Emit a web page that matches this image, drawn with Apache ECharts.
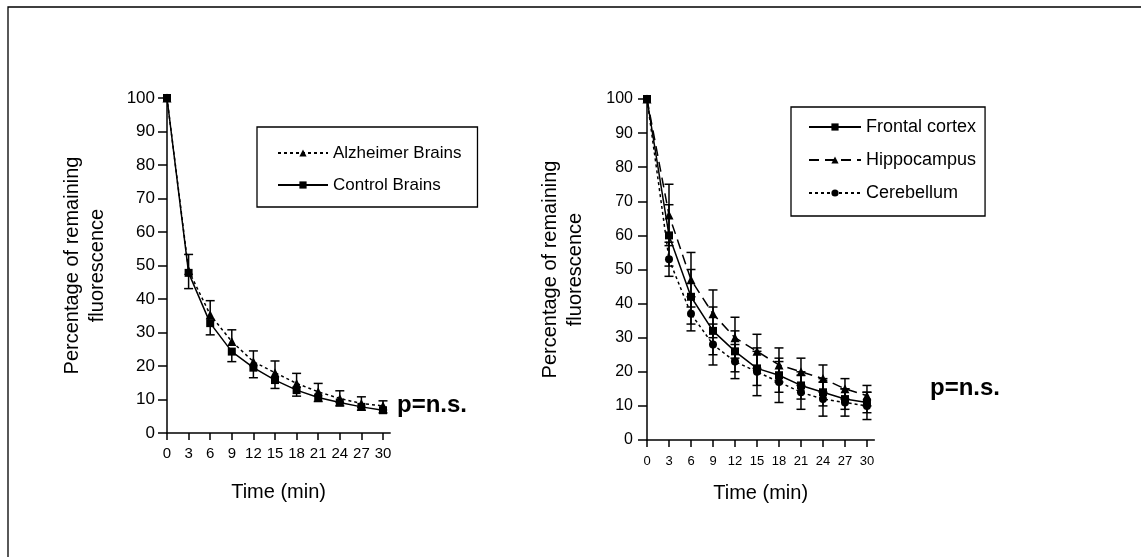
<!DOCTYPE html>
<html>
<head>
<meta charset="utf-8">
<script src="https://cdn.jsdelivr.net/npm/echarts@6/dist/echarts.min.js"></script>
<style>
  html, body { margin: 0; padding: 0; background: #fff; }
  #chart { width: 1141px; height: 557px; }
</style>
</head>
<body>
<div id="chart"></div>
<script>
// ---- data ----
const time = [0, 3, 6, 9, 12, 15, 18, 21, 24, 27, 30];
const timeTicks = [0, 3, 6, 9, 12, 15, 18, 21, 24, 27, 30];

const alzheimer    = [100, 48.5, 35.3, 27.3, 21.3, 18.0, 14.8, 12.3, 10.3, 8.8, 8.1];
const alzheimerErr = [0,   4.8,  4.2,  3.5,  3.2,  3.5,  3.0,  2.5,  2.3,  2.0, 1.5];
const control      = [100, 47.8, 32.8, 24.3, 19.5, 15.8, 12.8, 10.6, 9.1, 7.8, 6.8];
const controlErr   = [0,   4.7,  3.5,  3.0,  3.0,  2.5,  1.8,  1.2,  1.0, 1.0, 0.8];

const frontal        = [100, 60, 42, 32, 26, 21, 19, 16, 14, 12, 11];
const frontalErr     = [0,   9,  8,  7,  6,  5,  5,  4,  4,  3,  3];
const hippocampus    = [100, 66, 47, 37, 30, 26, 22, 20, 18, 15, 13];
const hippocampusErr = [0,   9,  8,  7,  6,  5,  5,  4,  4,  3,  3];
const cerebellum     = [100, 53, 37, 28, 23, 20, 17, 14, 12, 11, 10];
const cerebellumErr  = [0,   5,  5,  6,  5,  7,  6,  5,  5,  4,  4];

const FONT = '"Liberation Sans", Arial, sans-serif';
const BLACK = '#000';

function pairs(vals) { return time.map((t, i) => [t, vals[i]]); }
function errData(vals, errs) { return time.map((t, i) => [t, vals[i], errs[i]]); }

// dir: 1 = up only, -1 = down only, 0 = both
function errorSeries(name, vals, errs, dir, axisIdx) {
  return {
    type: 'custom',
    name: name,
    xAxisIndex: axisIdx, yAxisIndex: axisIdx,
    silent: true,
    z: 3,
    data: errData(vals, errs),
    renderItem: function (params, api) {
      const x = api.value(0), y = api.value(1), e = api.value(2);
      if (!e) return null;
      const c = api.coord([x, y]);
      const hi = api.coord([x, dir >= 0 ? y + e : y]);
      const lo = api.coord([x, dir <= 0 ? y - e : y]);
      const hw = 4.5;
      const style = { stroke: BLACK, lineWidth: 1.5 };
      const children = [{ type: 'line', shape: { x1: c[0], y1: hi[1], x2: c[0], y2: lo[1] }, style: style }];
      if (dir >= 0) children.push({ type: 'line', shape: { x1: c[0] - hw, y1: hi[1], x2: c[0] + hw, y2: hi[1] }, style: style });
      if (dir <= 0) children.push({ type: 'line', shape: { x1: c[0] - hw, y1: lo[1], x2: c[0] + hw, y2: lo[1] }, style: style });
      return { type: 'group', children: children };
    }
  };
}

function lineSeries(name, vals, symbol, size, dash, axisIdx) {
  return {
    type: 'line', name: name,
    xAxisIndex: axisIdx, yAxisIndex: axisIdx,
    data: pairs(vals),
    symbol: symbol, symbolSize: size,
    showSymbol: true,
    lineStyle: { color: BLACK, width: 1.5, type: dash },
    itemStyle: { color: BLACK, borderWidth: 0 },
    z: 4
  };
}

function xAxisCfg(gridIndex, labelSize, nameGap, labelMargin) {
  return {
    type: 'value', gridIndex: gridIndex, min: 0, max: 31,
    name: 'Time (min)', nameLocation: 'middle', nameGap: nameGap,
    nameTextStyle: { fontFamily: FONT, fontSize: 20, color: BLACK },
    axisLine: { show: true, onZero: false, lineStyle: { color: BLACK, width: 1.5 } },
    axisTick: { show: true, length: 7, customValues: timeTicks, lineStyle: { color: BLACK, width: 1.5 } },
    axisLabel: { customValues: timeTicks, fontFamily: FONT, fontSize: labelSize, color: BLACK, margin: labelMargin },
    splitLine: { show: false }
  };
}

function yAxisCfg(gridIndex, labelSize, nameGap, labelMargin) {
  return {
    type: 'value', gridIndex: gridIndex, min: 0, max: 100, interval: 10,
    name: 'Percentage of remaining\nfluorescence', nameLocation: 'middle', nameGap: nameGap, nameRotate: 90,
    nameTextStyle: { fontFamily: FONT, fontSize: 20, color: BLACK, lineHeight: 25, align: 'center' },
    axisLine: { show: true, onZero: false, lineStyle: { color: BLACK, width: 1.5 } },
    axisTick: { show: true, length: 9, lineStyle: { color: BLACK, width: 1.5 } },
    axisLabel: { fontFamily: FONT, fontSize: labelSize, color: BLACK, margin: labelMargin },
    splitLine: { show: false }
  };
}

const chart = echarts.init(document.getElementById('chart'), null, { renderer: 'canvas' });

const option = {
  animation: false,
  backgroundColor: '#fff',
  textStyle: { fontFamily: FONT, color: BLACK },
  grid: [
    { left: 167, top: 98, width: 223.2, height: 335 },
    { left: 647, top: 99, width: 227.3, height: 341 }
  ],
  xAxis: [xAxisCfg(0, 15, 49, 13), xAxisCfg(1, 13, 43, 15)],
  yAxis: [yAxisCfg(0, 17, 57, 12), yAxisCfg(1, 16, 59, 14)],
  legend: [
    {
      left: 257, top: 127, orient: 'vertical',
      borderColor: BLACK, borderWidth: 1.3, borderRadius: 0,
      padding: [17, 16, 13, 20], itemGap: 14,
      itemWidth: 50, itemHeight: 9,
      selectedMode: false,
      textStyle: { fontFamily: FONT, fontSize: 17, lineHeight: 18, color: BLACK },
      data: ['Alzheimer Brains', 'Control Brains']
    },
    {
      left: 791, top: 107, orient: 'vertical',
      borderColor: BLACK, borderWidth: 1.3, borderRadius: 0,
      padding: [11, 9, 14, 17], itemGap: 15,
      itemWidth: 52, itemHeight: 9,
      selectedMode: false,
      textStyle: { fontFamily: FONT, fontSize: 18, lineHeight: 18, color: BLACK },
      data: ['Frontal cortex', 'Hippocampus', 'Cerebellum']
    }
  ],
  graphic: [
    { type: 'rect', shape: { x: 8, y: 7, width: 1200, height: 700 }, style: { fill: 'none', stroke: BLACK, lineWidth: 1.3 }, silent: true },
    { type: 'text', left: 397, top: 393, style: { text: 'p=n.s.', font: 'bold 24px ' + FONT, fill: BLACK } },
    { type: 'text', left: 930, top: 376, style: { text: 'p=n.s.', font: 'bold 24px ' + FONT, fill: BLACK } }
  ],
  series: [
    errorSeries('errA', alzheimer, alzheimerErr, 1, 0),
    errorSeries('errC', control, controlErr, -1, 0),
    lineSeries('Alzheimer Brains', alzheimer, 'triangle', 9, [3, 3], 0),
    lineSeries('Control Brains', control, 'rect', 8, 'solid', 0),
    errorSeries('errF', frontal, frontalErr, 0, 1),
    errorSeries('errH', hippocampus, hippocampusErr, 0, 1),
    errorSeries('errCb', cerebellum, cerebellumErr, 0, 1),
    lineSeries('Frontal cortex', frontal, 'rect', 8, 'solid', 1),
    lineSeries('Hippocampus', hippocampus, 'triangle', 9, [10, 6], 1),
    lineSeries('Cerebellum', cerebellum, 'circle', 8, [3, 3], 1)
  ]
};

chart.setOption(option);
</script>
</body>
</html>
